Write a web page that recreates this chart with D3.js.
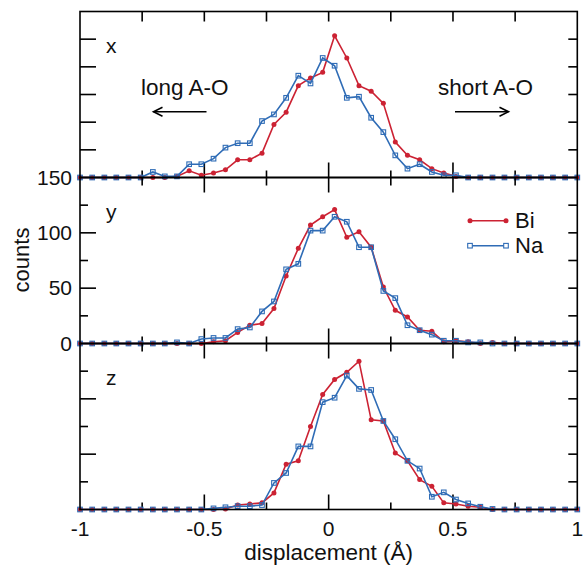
<!DOCTYPE html>
<html><head><meta charset="utf-8">
<script src="https://cdn.jsdelivr.net/npm/d3@7"></script>
<style>body{margin:0;background:#fff}</style>
</head><body>
<svg id="c" width="584" height="575"></svg>
<script>
// displacement values (Å)
const xValues = [-1.000,-0.951,-0.902,-0.854,-0.805,-0.756,-0.707,-0.659,-0.610,-0.561,
  -0.512,-0.463,-0.415,-0.366,-0.317,-0.268,-0.220,-0.171,-0.122,-0.073,
  -0.024,0.024,0.073,0.122,0.171,0.220,0.268,0.317,0.366,0.415,
  0.463,0.512,0.561,0.610,0.659,0.707,0.756,0.805,0.854,0.902,0.951,1.000];

const panelNames = ["x","y","z"];
const seriesNames = ["Bi","Na"];

const biX = [0,0,0,0,0,0,0,0,1,6, 2,4,7,16,16,22,48,59,83,90, 95,128,108,83,78,67,32,20,16,8, 4,1,0,0,0,0,0,0,0,0,0,0];
const naX = [0,0,0,0,0,0,5,1,1,12, 12,17,27,31,31,51,57,72,92,85, 108,101,72,73,54,41,20,8,12,5, 2,2,0,0,0,0,0,0,0,0,0,0];
const biY = [0,0,0,0,0,0,0,0,0,0, 0,1.5,2.5,10,16.5,18,31.6,61,86,107, 114.5,121,96,101,87,51,30,24,12,11, 1.5,2.5,1.5,0,1,0,0,0,0,0,0,0];
const naY = [0,0,0,0,0,0,0,0,1,0, 4,5,5,13,14.5,29,38,67,72,102, 102,114.5,110,87,87,47.5,41,16.5,12,8, 2.5,2.5,1,1,0,0,0,0,0,0,0,0];
const biZ = [0,0,0,0,0,0,0,0,0,0, 0,0,0.5,4,5,6,15,41,44,75, 104,117.5,124,134,81,80,51,44,27,21, 6,5,3,2,0,0,0,0,0,0,0,0];
const naZ = [0,0,0,0,0,0,0,0,0,0, 0,1,2,3,3,4,24,33,57,57, 97,101,121,109,108,80,63.5,44,37,11.5, 15.5,9,5.5,2.5,0.5,0,0,0,0,0,0,0];

const yTickLabels = [0,50,100,150];
const xTickLabels = [-1,-0.5,0,0.5,1];

const panelSeries = {x:{Bi:biX, Na:naX}, y:{Bi:biY, Na:naY}, z:{Bi:biZ, Na:naZ}};
const colors = {Bi:"#cc2233", Na:"#2f6cb6"};
const FONT = "'Liberation Sans', Arial, Helvetica, sans-serif";

const svg = d3.select("#c");
const L = 80, R = 577.3, T = 11.5, PH = 166;
const x = d3.scaleLinear().domain([-1,1]).range([L,R]);

function addTicks(g, y, top) {
  // left y ticks
  const ticks = d3.range(25,150,25);
  ticks.forEach((v,i) => {
    const major = (top === 0) ? true : (v % 50 === 0);
    const len = major ? 16 : 8;
    g.append("line").attr("x1",L).attr("x2",L+len).attr("y1",y(v)).attr("y2",y(v))
      .attr("stroke","#000").attr("stroke-width",1.6);
    g.append("line").attr("x1",R).attr("x2",R-9).attr("y1",y(v)).attr("y2",y(v))
      .attr("stroke","#000").attr("stroke-width",1.6);
  });
  // x ticks
  d3.range(-0.75,0.76,0.25).forEach(v => {
    const major = Math.abs(v*2 - Math.round(v*2)) < 1e-6;
    const up = major ? 15 : 7;
    const dn = top === 0 ? 10 : (major ? 15 : 8);
    g.append("line").attr("x1",x(v)).attr("x2",x(v)).attr("y1",y(0)).attr("y2",y(0)-up)
      .attr("stroke","#000").attr("stroke-width",1.6);
    g.append("line").attr("x1",x(v)).attr("x2",x(v)).attr("y1",y(150)).attr("y2",y(150)+dn)
      .attr("stroke","#000").attr("stroke-width",1.6);
  });
}

panelNames.forEach((name, pi) => {
  const top = T + pi*PH;
  const y = d3.scaleLinear().domain([0,150]).range([top+PH, top]);
  const g = svg.append("g");
  addTicks(g, y, pi);

  seriesNames.forEach(s => {
    const vals = panelSeries[name][s];
    const pts = xValues.map((xv,i) => [xv, vals[i]]);
    const line = d3.line().x(d => x(d[0])).y(d => y(d[1]));
    g.append("path").attr("d", line(pts)).attr("fill","none")
      .attr("stroke", colors[s]).attr("stroke-width",1.6);
    if (s === "Bi") {
      g.selectAll(null).data(pts).join("circle")
        .attr("cx", d => x(d[0])).attr("cy", d => y(d[1])).attr("r",2.5)
        .attr("fill", colors[s]);
    } else {
      g.selectAll(null).data(pts).join("rect")
        .attr("x", d => x(d[0])-2.3).attr("y", d => y(d[1])-2.3)
        .attr("width",4.6).attr("height",4.6)
        .attr("fill","none").attr("stroke", colors[s]).attr("stroke-width",1.1);
    }
  });

  // frame
  g.append("rect").attr("x",L).attr("y",top).attr("width",R-L).attr("height",PH)
    .attr("fill","none").attr("stroke","#000").attr("stroke-width",1.6);

  g.append("text").attr("x",106).attr("y",top+41).text(name)
    .attr("font-family",FONT).attr("font-size",21).attr("fill","#111");

  if (pi === 1) {
    yTickLabels.forEach(v => {
      g.append("text").attr("x",72).attr("y",y(v)+7).attr("text-anchor","end")
        .attr("font-family",FONT).attr("font-size",21).attr("fill","#111").text(v);
    });
  }
  if (pi === 2) {
    xTickLabels.forEach(v => {
      g.append("text").attr("x",x(v)).attr("y",top+PH+26).attr("text-anchor","middle")
        .attr("font-family",FONT).attr("font-size",21).attr("fill","#111").text(v);
    });
  }
});

// axis titles
svg.append("text").attr("x",x(0)).attr("y",560).attr("text-anchor","middle")
  .attr("font-family",FONT).attr("font-size",22.5).attr("fill","#111").text("displacement (Å)");
svg.append("text").attr("transform","translate(29,260) rotate(-90)").attr("text-anchor","middle")
  .attr("font-family",FONT).attr("font-size",22).attr("fill","#111").text("counts");

// annotations
svg.append("text").attr("x",141).attr("y",95).attr("font-family",FONT).attr("font-size",22.5)
  .attr("fill","#111").text("long A-O");
svg.append("text").attr("x",438).attr("y",95).attr("font-family",FONT).attr("font-size",22.5)
  .attr("fill","#111").text("short A-O");
function arrow(x1, x2, yy) {
  const dir = Math.sign(x2 - x1);
  svg.append("line").attr("x1",x1).attr("x2",x2).attr("y1",yy).attr("y2",yy)
    .attr("stroke","#000").attr("stroke-width",1.6);
  svg.append("path").attr("d",`M${x2-dir*9},${yy-4.5} L${x2},${yy} L${x2-dir*9},${yy+4.5}`)
    .attr("fill","none").attr("stroke","#000").attr("stroke-width",1.6);
}
arrow(206.5, 153.5, 111.7);
arrow(455, 508.5, 111.7);

// legend
seriesNames.forEach((s, i) => {
  const yy = 220.7 + i*25;
  const lg = svg.append("g");
  lg.append("line").attr("x1",470).attr("x2",506).attr("y1",yy).attr("y2",yy)
    .attr("stroke",colors[s]).attr("stroke-width",1.6);
  [470,506].forEach(px => {
    if (s === "Bi") lg.append("circle").attr("cx",px).attr("cy",yy).attr("r",2.5).attr("fill",colors[s]);
    else lg.append("rect").attr("x",px-2.3).attr("y",yy-2.3).attr("width",4.6).attr("height",4.6)
      .attr("fill","#fff").attr("stroke",colors[s]).attr("stroke-width",1.1);
  });
  lg.append("text").attr("x",515).attr("y",yy+7.5).attr("font-family",FONT).attr("font-size",22)
    .attr("fill","#111").text(s);
});
</script>
</body></html>
